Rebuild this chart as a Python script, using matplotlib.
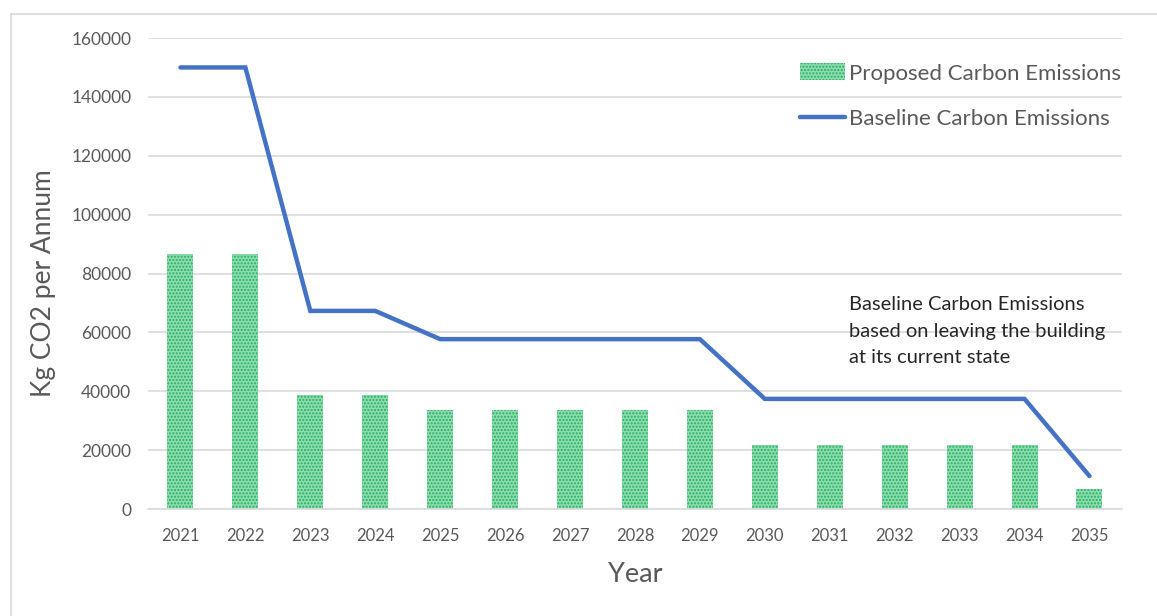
import numpy as np
import matplotlib.pyplot as plt
from matplotlib.lines import Line2D

plt.rcParams['font.family'] = ['Lato', 'DejaVu Sans']

years = ['2021', '2022', '2023', '2024', '2025', '2026', '2027', '2028',
         '2029', '2030', '2031', '2032', '2033', '2034', '2035']
proposed = [86600, 86600, 38700, 38700, 33600, 33600, 33600, 33600,
            33600, 21700, 21700, 21700, 21700, 21700, 6800]
baseline = [150000, 150000, 67300, 67300, 57700, 57700, 57700, 57700,
            57700, 37400, 37400, 37400, 37400, 37400, 11200]

grey = '#595959'

fig = plt.figure(figsize=(11.57, 6.16), dpi=100)
ax = fig.add_axes([0.1279, 0.1737, 0.8418, 0.7646])

x = np.arange(len(years))
bars = ax.bar(x, proposed, width=0.4, facecolor='#8edbae', edgecolor='#22b260',
              hatch='.....', linewidth=0, label='Proposed Carbon Emissions', zorder=2)
ax.plot(x, baseline, color='#4472c4', linewidth=3.2, solid_capstyle='round',
        solid_joinstyle='miter', label='Baseline Carbon Emissions', zorder=3)

ax.set_xlim(-0.5, len(years) - 0.5)
ax.set_ylim(0, 160000)
ax.set_yticks(np.arange(0, 160001, 20000))
ax.set_xticks(x)
ax.set_xticklabels(years)
ax.tick_params(axis='both', length=0, colors=grey)
ax.tick_params(axis='y', pad=12, labelsize=12.5)
ax.tick_params(axis='x', pad=14, labelsize=12)
ax.grid(axis='y', color='#d9d9d9', linewidth=1.2, zorder=0)
ax.set_axisbelow(True)
for s in ['top', 'right', 'left']:
    ax.spines[s].set_visible(False)
ax.spines['bottom'].set_color('#d9d9d9')
ax.spines['bottom'].set_linewidth(1.2)

ax.set_ylabel('Kg CO2 per Annum', fontsize=19, color=grey, va='center')
ax.yaxis.set_label_coords(-0.1068, 0.48)
ax.set_xlabel('Year', fontsize=19.5, color=grey, va='center')
ax.xaxis.set_label_coords(0.5, -0.14)

handles = [bars, Line2D([], [], color='#4472c4', linewidth=3.2, solid_capstyle='round')]
ax.legend(handles, ['Proposed Carbon Emissions', 'Baseline Carbon Emissions'],
          loc='upper left', bbox_to_anchor=(0.669, 0.946), frameon=False,
          borderpad=0, borderaxespad=0,
          fontsize=16, labelcolor=grey, handlelength=2.05, handleheight=0.8,
          handletextpad=0.18, labelspacing=1.15)

ax.text(0.720, 0.452, 'Baseline Carbon Emissions\nbased on leaving the building\nat its current state',
        transform=ax.transAxes, fontsize=14.5, color='#262626', va='top', ha='left',
        linespacing=1.68)

# chart frame
fig.add_artist(Line2D([11 / 1157, 1], [1 - 14 / 616, 1 - 14 / 616], color='#d9d9d9', linewidth=1.2))
fig.add_artist(Line2D([11 / 1157, 11 / 1157], [0, 1 - 14 / 616], color='#d9d9d9', linewidth=1.2))

fig.savefig('out.png', dpi=100)
